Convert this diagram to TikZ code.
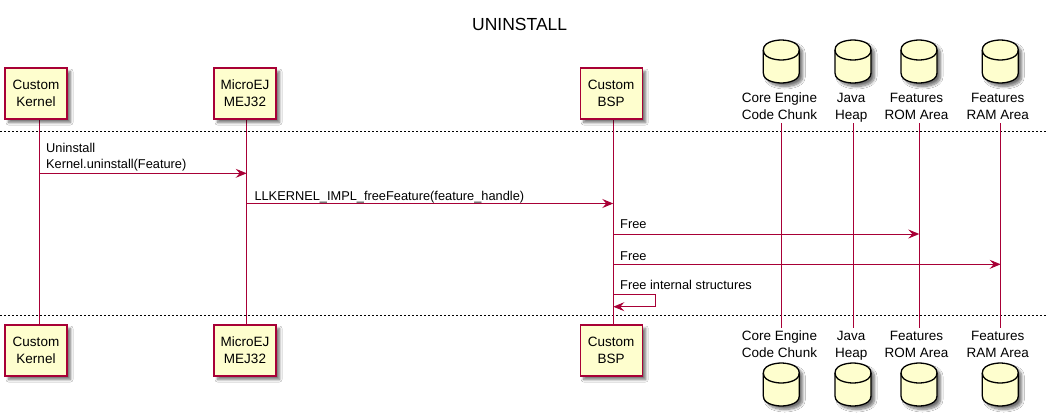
\documentclass[tikz,border=0pt]{standalone}
\usepackage{fontspec}
\setmainfont{Liberation Sans}
\usetikzlibrary{arrows.meta,shadows.blur}
\definecolor{pfill}{HTML}{FEFECE}
\definecolor{pline}{HTML}{A80036}
\tikzset{
  shad/.style={blur shadow={shadow xshift=3.5pt, shadow yshift=-3.5pt, shadow blur radius=2.5pt, shadow opacity=55, shadow blur steps=8}},
  part/.style={draw=pline, fill=pfill, line width=1.3pt, minimum width=62pt, minimum height=51pt,
    inner sep=0pt, align=center, font=\fontsize{13.5}{17}\selectfont, shad},
  lifeline/.style={draw=pline, line width=1pt},
  msg/.style={draw=pline, line width=1pt, -{Stealth[length=11pt,width=9pt,inset=4pt]}},
  sepline/.style={draw=black, line width=0.7pt, dash pattern=on 2pt off 2pt},
  lbl/.style={anchor=base, inner sep=0pt, font=\fontsize{13.5}{17}\selectfont},
  mtxt/.style={anchor=base west, inner sep=0pt, font=\fontsize{12.8}{15}\selectfont},
  dbshape/.style={draw=black, line width=1.3pt, fill=pfill, shad},
  dbfront/.style={draw=black, line width=1.3pt},
  pics/cyl/.style={code={
    \path[dbshape] (-18,10) .. controls (-18,0) and (0,0) .. (0,0)
      .. controls (0,0) and (18,0) .. (18,10) -- (18,33)
      .. controls (18,43) and (0,43) .. (0,43)
      .. controls (0,43) and (-18,43) .. (-18,33) -- cycle;
    \path[dbfront] (-18,10) .. controls (-18,20) and (0,20) .. (0,20)
      .. controls (0,20) and (18,20) .. (18,10);
  }}
}
\begin{document}
\begin{tikzpicture}[x=1pt,y=-1pt]
\useasboundingbox[fill=white] (0,0) rectangle (1046,413);

% title
\node[anchor=base, inner sep=0pt, font=\fontsize{17.5}{20}\selectfont] (title) at (519.7,30.7) {UNINSTALL};

% separators
\coordinate (s1a) at (0,131.5);
\coordinate (s1b) at (1046,131.5);
\coordinate (s2a) at (0,315.5);
\coordinate (s2b) at (1046,315.5);
\draw[sepline] (s1a) -- (s1b);
\draw[sepline] (s2a) -- (s2b);

% lifeline end points
\coordinate (kt) at (39,119);    \coordinate (kb) at (39,325);
\coordinate (mt) at (246.7,119); \coordinate (mb) at (246.7,325);
\coordinate (bt) at (613.3,119); \coordinate (bb) at (613.3,325);
\coordinate (ct) at (781,123);   \coordinate (cb) at (781,328);
\coordinate (jt) at (853.3,123); \coordinate (jb) at (853.3,328);
\coordinate (rt) at (919.3,123); \coordinate (rb) at (919.3,328);
\coordinate (at) at (1000.7,123);\coordinate (ab) at (1000.7,328);
\draw[lifeline] (kt) -- (kb);
\draw[lifeline] (mt) -- (mb);
\draw[lifeline] (bt) -- (bb);
\draw[lifeline] (ct) -- (cb);
\draw[lifeline] (jt) -- (jb);
\draw[lifeline] (rt) -- (rb);
\draw[lifeline] (at) -- (ab);

% participants (top)
\node[part] (kernelT) at (36,93.5) {Custom\\Kernel};
\node[part] (mejT) at (245,93.5) {MicroEJ\\MEJ32};
\node[part] (bspT) at (611.2,93.5) {Custom\\BSP};
% participants (bottom)
\node[part] (kernelB) at (36,350.5) {Custom\\Kernel};
\node[part] (mejB) at (245,350.5) {MicroEJ\\MEJ32};
\node[part] (bspB) at (611.2,350.5) {Custom\\BSP};

% databases (top)
\pic at (781.3,40) {cyl};
\pic at (853,40) {cyl};
\pic at (919,40) {cyl};
\pic at (1000.3,40) {cyl};
\node[lbl] (coreT1) at (779.5,102.7) {Core Engine};
\node[lbl] (coreT2) at (779.5,119.7) {Code Chunk};
\node[lbl] (javaT1) at (851.2,102.7) {Java};
\node[lbl] (javaT2) at (851.2,119.7) {Heap};
\node[lbl] (romT1) at (916.5,102.7) {Features};
\node[lbl] (romT2) at (916.5,119.7) {ROM Area};
\node[lbl] (ramT1) at (997.8,102.7) {Features};
\node[lbl] (ramT2) at (997.8,119.7) {RAM Area};

% databases (bottom)
\node[lbl] (coreB1) at (779.5,340.7) {Core Engine};
\node[lbl] (coreB2) at (779.5,357.5) {Code Chunk};
\node[lbl] (javaB1) at (851.2,340.7) {Java};
\node[lbl] (javaB2) at (851.2,357.5) {Heap};
\node[lbl] (romB1) at (916.5,340.7) {Features};
\node[lbl] (romB2) at (916.5,357.5) {ROM Area};
\node[lbl] (ramB1) at (997.8,340.7) {Features};
\node[lbl] (ramB2) at (997.8,357.5) {RAM Area};
\pic at (781.3,363) {cyl};
\pic at (853,363) {cyl};
\pic at (919,363) {cyl};
\pic at (1000.3,363) {cyl};

% messages
\coordinate (m1s) at (39,173.3);     \coordinate (m1e) at (246.7,173.3);
\coordinate (m2s) at (246.7,203.5);  \coordinate (m2e) at (613.3,203.5);
\coordinate (m3s) at (613.3,234);    \coordinate (m3e) at (919.3,234);
\coordinate (m4s) at (613.3,264.3);  \coordinate (m4e) at (1000.7,264.3);
\coordinate (m5s) at (613.3,294.3);  \coordinate (m5a) at (655.7,294.3);
\coordinate (m5b) at (655.7,306.7);  \coordinate (m5e) at (613.3,306.7);

\draw[msg] (m1s) -- (m1e);
\draw[msg] (m2s) -- (m2e);
\draw[msg] (m3s) -- (m3e);
\draw[msg] (m4s) -- (m4e);
\draw[msg] (m5s) -- (m5a) -- (m5b) -- (m5e);

\node[mtxt] (t1a) at (46,152) {Uninstall};
\node[mtxt] (t1b) at (46,168.3) {Kernel.uninstall(Feature)};
\node[mtxt] (t2) at (254.3,200) {LLKERNEL\_IMPL\_freeFeature(feature\_handle)};
\node[mtxt] (t3) at (620,228.5) {Free};
\node[mtxt] (t4) at (620,260) {Free};
\node[mtxt] (t5) at (620,289.3) {Free internal structures};
\end{tikzpicture}
\end{document}
